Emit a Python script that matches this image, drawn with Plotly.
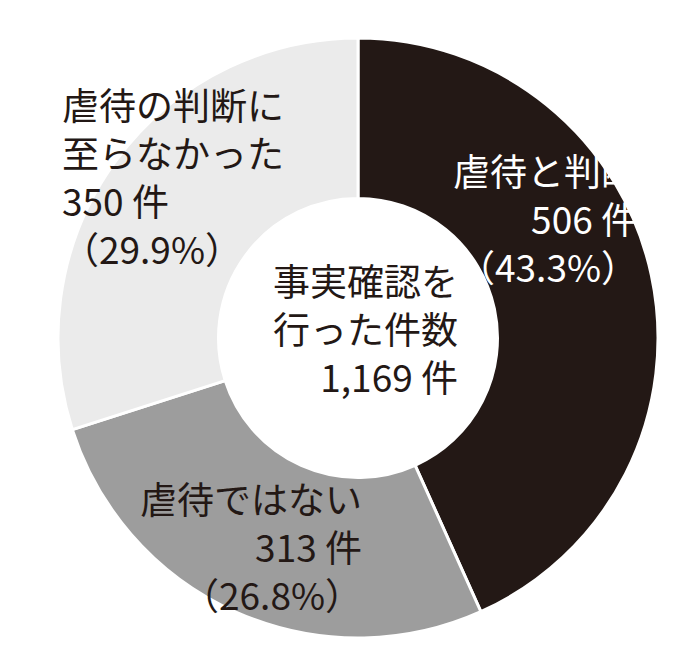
import plotly.graph_objects as go

W, H = 698, 654

# data
labels = ["虐待と判断", "虐待ではない", "虐待の判断に<br>至らなかった"]
counts = [506, 313, 350]
colors = ["#231815", "#9d9d9d", "#ebebeb"]
total = sum(counts)
center_text = "事実確認を<br>行った件数<br>{:,} 件".format(total)

FONT = "Noto Sans CJK JP"


def px(x, y):
    return x / W, 1 - y / H


fig = go.Figure(go.Pie(
    values=counts,
    labels=labels,
    sort=False,
    direction="clockwise",
    rotation=0,
    hole=0.465,
    marker=dict(colors=colors, line=dict(color="white", width=3)),
    textinfo="none",
    hoverinfo="none",
    showlegend=False,
    domain=dict(x=[50 / W, 650 / W], y=[1 - 630 / H, 1 - 30 / H]),
))


def label(i):
    pct = counts[i] / total * 100
    return "{}<br>{} 件<br>（{:.1f}%）".format(labels[i], counts[i], pct)


# (pixel x, pixel y, anchor, text colour)
spots = [
    (632, 210, "right", "white"),
    (356, 538, "right", "#231815"),
    (52, 168, "left", "#231815"),
]
for i, (x, y, anchor, c) in enumerate(spots):
    xx, yy = px(x, y)
    fig.add_annotation(x=xx, y=yy, xref="paper", yref="paper", text=label(i),
                       showarrow=False, xanchor=anchor, yanchor="middle",
                       align=anchor,
                       font=dict(family=FONT, size=37, color=c))

xx, yy = px(452, 320)
fig.add_annotation(x=xx, y=yy, xref="paper", yref="paper", text=center_text,
                   showarrow=False, xanchor="right", yanchor="middle",
                   align="right",
                   font=dict(family=FONT, size=37, color="#231815"))

fig.update_layout(width=W, height=H, margin=dict(l=0, r=0, t=0, b=0),
                  paper_bgcolor="white", plot_bgcolor="white")

fig.write_html("out.html")
